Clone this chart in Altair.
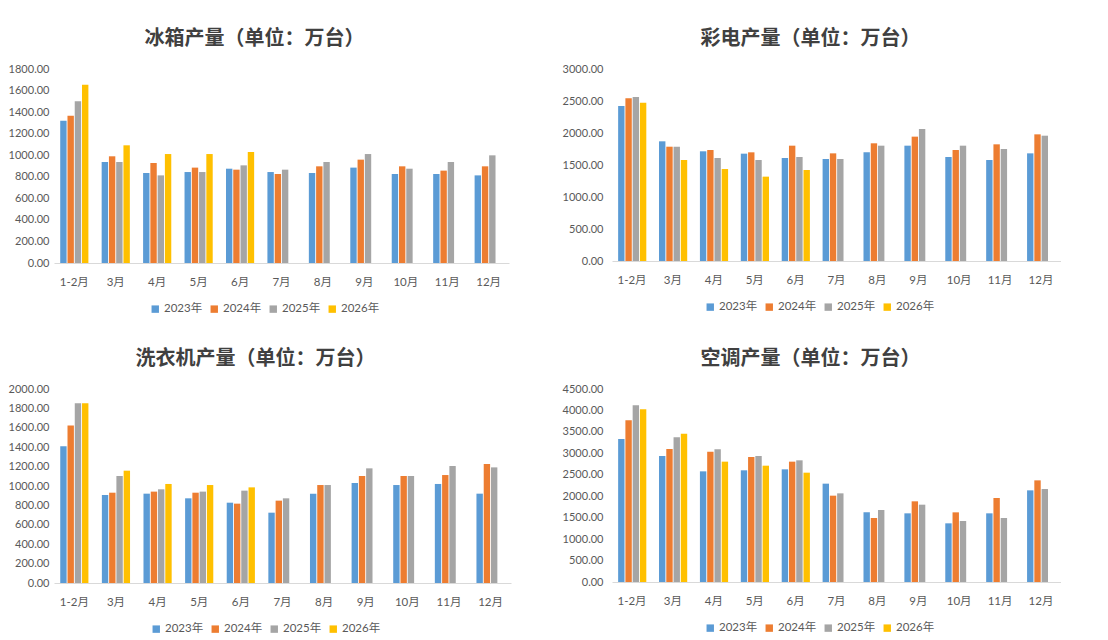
import altair as alt
import pandas as pd

months = ["1-2月", "3月", "4月", "5月", "6月", "7月", "8月", "9月", "10月", "11月", "12月"]
years = ["2023年", "2024年", "2025年", "2026年"]
colors = ["#5B9BD5", "#ED7D31", "#A5A5A5", "#FFC000"]

# 冰箱
fridge_2023 = [1320, 937, 835, 844, 875, 844, 835, 885, 826, 826, 813]
fridge_2024 = [1367, 990, 928, 885, 866, 826, 897, 959, 897, 857, 897]
fridge_2025 = [1500, 937, 813, 844, 906, 866, 937, 1011, 875, 937, 999]
fridge_2026 = [1655, 1092, 1011, 1011, 1030]

# 彩电
tv_2023 = [2422, 1870, 1714, 1677, 1609, 1594, 1698, 1802, 1625, 1578, 1682]
tv_2024 = [2542, 1786, 1734, 1698, 1802, 1682, 1839, 1943, 1734, 1823, 1979]
tv_2025 = [2562, 1786, 1609, 1578, 1625, 1594, 1802, 2063, 1802, 1750, 1958]
tv_2026 = [2474, 1578, 1437, 1318, 1422]

# 洗衣机
washer_2023 = [1409, 907, 921, 873, 828, 725, 921, 1031, 1010, 1021, 921]
washer_2024 = [1625, 931, 942, 931, 818, 849, 1010, 1103, 1103, 1113, 1227]
washer_2025 = [1852, 1103, 966, 942, 952, 873, 1010, 1182, 1103, 1206, 1192]
washer_2026 = [1852, 1158, 1021, 1010, 986]

# 空调
ac_2023 = [3334, 2938, 2580, 2604, 2627, 2293, 1624, 1601, 1368, 1601, 2137]
ac_2024 = [3769, 3101, 3039, 2914, 2806, 2013, 1492, 1881, 1624, 1959, 2370]
ac_2025 = [4119, 3373, 3093, 2938, 2837, 2067, 1679, 1803, 1422, 1492, 2168]
ac_2026 = [4026, 3459, 2806, 2712, 2549]

fridge_ticks = [0, 200, 400, 600, 800, 1000, 1200, 1400, 1600, 1800]
tv_ticks = [0, 500, 1000, 1500, 2000, 2500, 3000]
washer_ticks = [0, 200, 400, 600, 800, 1000, 1200, 1400, 1600, 1800, 2000]
ac_ticks = [0, 500, 1000, 1500, 2000, 2500, 3000, 3500, 4000, 4500]

NUM_FONT = "Lato, Noto Sans CJK SC"
TITLE_FONT = "Noto Sans CJK SC"
LABEL_COLOR = "#595959"


def build_df(series):
    rows = []
    for yr, vals in zip(years, series):
        for m, v in zip(months, vals):
            rows.append({"month": m, "year": yr, "value": v})
    return pd.DataFrame(rows)


def panel(title, series, ticks, w, h, dx, ypad):
    df = build_df(series)
    return alt.Chart(df).mark_bar().encode(
        x=alt.X("month:N", sort=months,
                scale=alt.Scale(domain=months, paddingInner=0.32, paddingOuter=0.15),
                axis=alt.Axis(title=None, labelAngle=0, domainColor="#D9D9D9", ticks=False,
                              labelPadding=13, labelFont=NUM_FONT, labelFontSize=11.5,
                              labelColor=LABEL_COLOR)),
        xOffset=alt.XOffset("year:N", sort=years,
                            scale=alt.Scale(domain=years, paddingInner=0.12)),
        y=alt.Y("value:Q", scale=alt.Scale(domain=[0, ticks[-1]], nice=False),
                axis=alt.Axis(title=None, values=ticks, format=".2f", grid=False, domain=False,
                              ticks=False, labelPadding=ypad, labelFont=NUM_FONT,
                              labelFontSize=11, labelColor=LABEL_COLOR)),
        color=alt.Color("year:N",
                        scale=alt.Scale(domain=years, range=colors),
                        legend=alt.Legend(title=None, orient="none", direction="horizontal",
                                          legendX=w / 2 - 132, legendY=h + 40,
                                          symbolType="square", symbolSize=55,
                                          symbolStrokeWidth=0, labelFont=NUM_FONT,
                                          labelFontSize=11.5, labelColor=LABEL_COLOR,
                                          columnPadding=6, labelOffset=3)),
    ).properties(
        width=w, height=h,
        title=alt.TitleParams(title, font=TITLE_FONT, fontSize=20, fontWeight="bold",
                              color="#404040", anchor="middle", dx=dx, offset=14),
    )


p1 = panel("冰箱产量（单位：万台）", [fridge_2023, fridge_2024, fridge_2025, fridge_2026],
           fridge_ticks, 455, 194, -27, 5)
p2 = panel("彩电产量（单位：万台）", [tv_2023, tv_2024, tv_2025, tv_2026],
           tv_ticks, 449, 192, -26, 9)
p3 = panel("洗衣机产量（单位：万台）", [washer_2023, washer_2024, washer_2025, washer_2026],
           washer_ticks, 457, 194, -27, 5)
p4 = panel("空调产量（单位：万台）", [ac_2023, ac_2024, ac_2025, ac_2026],
           ac_ticks, 449, 193, -26, 9)

row1 = alt.hconcat(p1, p2, spacing=53).resolve_scale(color="independent").resolve_legend(color="independent")
row2 = alt.hconcat(p3, p4, spacing=51).resolve_scale(color="independent").resolve_legend(color="independent")

chart = alt.vconcat(row1, row2, spacing=34).resolve_scale(color="independent").resolve_legend(
    color="independent"
).properties(
    padding={"left": 0, "top": 21, "right": 0, "bottom": 0},
    background="white",
).configure_view(stroke=None)

chart.save("out.html", embed_options={"renderer": "svg", "actions": False})
